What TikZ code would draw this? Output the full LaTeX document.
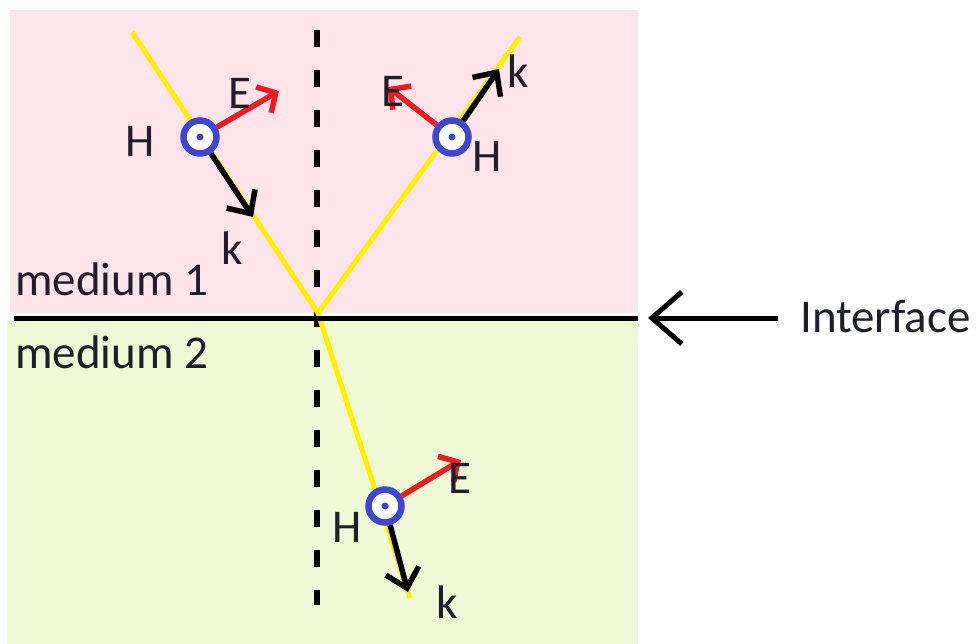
\documentclass[tikz,border=0pt]{standalone}
\usepackage{fontspec}
\setmainfont{Carlito}
\usetikzlibrary{arrows.meta}
\definecolor{pinkbg}{RGB}{255,228,236}
\definecolor{greenbg}{RGB}{240,248,213}
\definecolor{rayyellow}{RGB}{255,240,0}
\definecolor{ered}{RGB}{237,28,36}
\definecolor{hblue}{RGB}{63,72,204}
\definecolor{txt}{RGB}{30,30,40}
\begin{document}
\begin{tikzpicture}[x=1pt,y=-1pt,
  lbl/.style={inner sep=0pt,text=txt,font=\fontsize{47}{50}\selectfont},
  ray/.style={rayyellow,line width=5pt},
  hcirc/.style={circle,draw=hblue,line width=6.5pt,fill=white,minimum size=33pt,inner sep=0pt},
  evec/.style={ered,line width=5.5pt,-{Straight Barb[length=14pt,width=30pt]}},
  kvec/.style={black,line width=5.5pt,-{Straight Barb[length=18pt,width=34pt]}},
  normalline/.style={black,line width=6pt,dash pattern=on 17pt off 23pt}]
\useasboundingbox (0,0) rectangle (979,644);
% media
\fill[pinkbg] (10,10) rectangle (638,313);
\fill[greenbg] (7,321) rectangle (638,644);
% normal
\coordinate (ntop) at (317,30);
\coordinate (nbot) at (317,605);
\draw[normalline] (ntop) -- (nbot);
% rays
\coordinate (O) at (318,313);
\coordinate (inc) at (132,32);
\coordinate (refl) at (520,37);
\coordinate (trans) at (410,598);
\draw[ray] (inc) -- (O);
\draw[ray] (O) -- (refl);
\draw[ray] (O) -- (trans);
% interface
\coordinate (ifl) at (14,318);
\coordinate (ifr) at (638,318);
\draw[black,line width=5pt] (ifl) -- (ifr);
\node[lbl,anchor=base west] (iflabel) at (800,332) {Interface};
\coordinate (iftail) at (778,318);
\coordinate (ifhead) at (648,318);
\draw[black,line width=5pt,-{Straight Barb[length=30pt,width=52pt]}] (iftail) -- (ifhead);
\node[lbl,anchor=base west] (m1) at (15,295) {medium 1};
\node[lbl,anchor=base west] (m2) at (15,368) {medium 2};
% wave 1 (incident)
\node[hcirc] (c1) at (200,137) {};
\fill[hblue] (c1.center) circle (3.5pt);
\coordinate (e1) at (279,91);
\coordinate (k1) at (253,217);
\draw[evec] (c1) -- (e1);
\draw[kvec] (c1) -- (k1);
\node[lbl] (h1l) at (140,141) {H};
\node[lbl] (e1l) at (240,93) {E};
\node[lbl] (k1l) at (232,248) {k};
% wave 2 (reflected)
\node[hcirc] (c2) at (452,137) {};
\fill[hblue] (c2.center) circle (3.5pt);
\coordinate (e2) at (388,87);
\coordinate (k2) at (499,69);
\draw[evec] (c2) -- (e2);
\draw[kvec] (c2) -- (k2);
\node[lbl] (h2l) at (487,156) {H};
\node[lbl] (e2l) at (393,91) {E};
\node[lbl] (k2l) at (518,71) {k};
% wave 3 (transmitted)
\node[hcirc] (c3) at (385,506) {};
\fill[hblue] (c3.center) circle (3.5pt);
\coordinate (e3) at (461,460);
\coordinate (k3) at (408,592);
\draw[evec] (c3) -- (e3);
\draw[kvec] (c3) -- (k3);
\node[lbl] (h3l) at (347,527) {H};
\node[lbl] (e3l) at (460,478) {E};
\node[lbl] (k3l) at (447,602) {k};
\end{tikzpicture}
\end{document}
